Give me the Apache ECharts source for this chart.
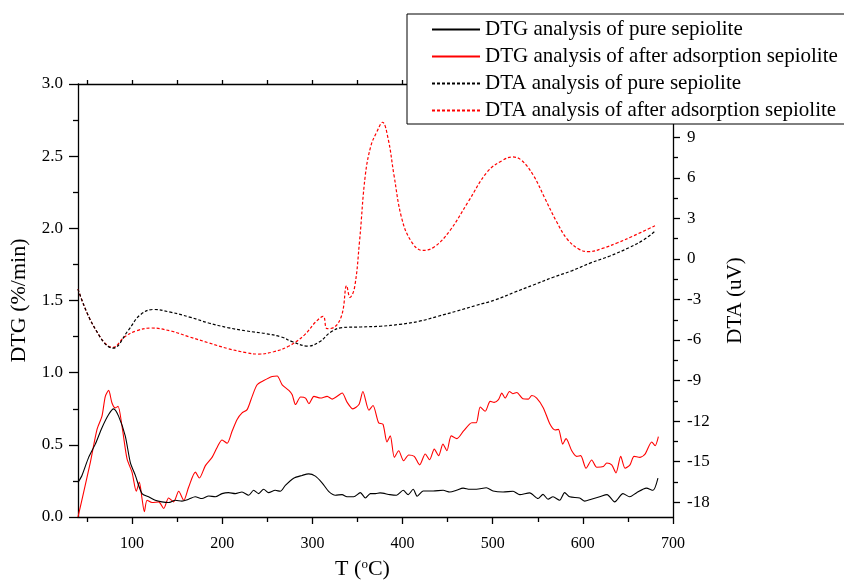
<!DOCTYPE html>
<html>
<head>
<meta charset="utf-8">
<script src="https://cdn.jsdelivr.net/npm/echarts@6/dist/echarts.min.js"></script>
<style>
  html, body { margin: 0; padding: 0; background: #fff; }
  #chart { width: 844px; height: 585px; }
</style>
</head>
<body>
<div id="chart"></div>
<script>
// Temperature (°C) and DTG (%/min) for the pure sepiolite
var dtgPureT = [40,44.4,51.8,59.2,66.6,74,79.5,85,92.4,98,103.6,111,118.3,125.7,133,140.5,147.9,155.3,162.7,170,177.5,185,192.3,199.7,207,214.5,221.9,229.3,234.8,240.3,245.9,251.4,258.8,264.4,270,279.2,288.5,295.9,303.3,310.7,318,325.5,332.9,338.4,345.8,353.2,358.8,364.3,369.9,
  375,386,393.3,400.7,406.3,411.8,416.3,422.9,434,445,452.5,459.8,467.2,474.6,482,493,500.4,511.5,522.6,530,541,550.3,555.8,561.4,566.9,574.3,579.8,585.4,596.5,602,609.4,618.7,626.8,635.3,644.5,651.9,659.3,670.4,677.8,683.3];
var dtgPure = [0.24,0.288,0.413,0.505,0.619,0.71,0.749,0.699,0.562,0.379,0.288,0.162,0.14,0.116,0.105,0.1,0.116,0.11,0.123,0.14,0.128,0.146,0.14,0.162,0.169,0.162,0.173,0.151,0.185,0.162,0.192,0.169,0.185,0.178,0.219,0.269,0.288,0.299,0.283,0.237,0.178,0.151,0.155,0.14,0.14,0.169,0.132,0.162,0.162,
  0.167,0.155,0.151,0.185,0.155,0.192,0.144,0.180,0.180,0.185,0.173,0.185,0.2,0.192,0.192,0.203,0.180,0.173,0.178,0.155,0.167,0.128,0.157,0.123,0.14,0.116,0.169,0.14,0.132,0.11,0.123,0.14,0.155,0.105,0.162,0.14,0.167,0.2,0.185,0.269];

// DTG (%/min) for the sepiolite after adsorption
var dtgAfterT = [40,46.3,53.7,61.1,66.6,70.3,74,77.7,81.4,84.4,88.8,94.4,99.9,104.7,108,111,113.6,116.6,122.1,129.5,135.1,140.5,146.1,151.7,157.3,162.8,170.2,174.6,181.3,188.7,194.3,199.8,205.4,211,216.5,222,227.6,233.2,238.7,246.1,255.4,260.9,266.5,273.9,277.6,281.3,286.9,292.4,296.1,301.7,309,316.4,322,327.5,333,338.6,344.9,351.6,356,362.7,367.2,
  373.4,378.3,382.7,386.4,390.9,395.7,401.2,406.8,413,419,425.2,430,435.2,440,444.8,449.2,454,460.3,467.7,476.9,481.7,486.2,491.7,497.2,501.6,506.4,510.1,513.8,518.6,522.3,526.7,533.4,539.6,543.3,548.8,556.2,563.6,569.2,572.9,577.7,581.4,587.7,593.2,597.6,603.5,609.8,615.4,622.8,626.5,632,636.8,642,646.8,652.3,656.8,663.4,669,676.4,680.1,683.8];
var dtgAfter = [0,0.173,0.379,0.607,0.699,0.836,0.877,0.79,0.756,0.767,0.63,0.402,0.311,0.178,0.242,0.128,0.037,0.116,0.1,0.105,0.059,0.132,0.105,0.178,0.116,0.208,0.311,0.27,0.356,0.413,0.482,0.534,0.511,0.596,0.676,0.721,0.744,0.836,0.916,0.945,0.973,0.977,0.916,0.877,0.847,0.779,0.831,0.824,0.785,0.836,0.824,0.836,0.817,0.836,0.859,0.794,0.749,0.779,0.870,0.74,0.772,
  0.653,0.642,0.52,0.562,0.413,0.459,0.39,0.43,0.42,0.361,0.436,0.397,0.47,0.425,0.505,0.459,0.562,0.543,0.596,0.653,0.653,0.762,0.733,0.801,0.794,0.813,0.858,0.824,0.87,0.854,0.863,0.82,0.817,0.842,0.824,0.756,0.642,0.603,0.607,0.505,0.543,0.459,0.42,0.425,0.338,0.395,0.345,0.35,0.374,0.361,0.306,0.42,0.338,0.361,0.42,0.413,0.436,0.52,0.494,0.557];

// DTA (uV) for the pure sepiolite
var dtaPureT = [40,57.8,79,96,108.7,123.5,142.6,163.7,185,206,227,248.5,265.5,278,295,308,320.5,333,354.5,375.6,397,418,439,460,481.6,502.8,524,545,566.4,587.6,608.7,630,651,668,680.8];
var dtaPure = [-2.23,-5.03,-6.6,-5.26,-4.16,-3.74,-3.94,-4.30,-4.74,-5.08,-5.33,-5.53,-5.77,-6.13,-6.45,-6.13,-5.4,-5.08,-5.03,-4.98,-4.84,-4.62,-4.25,-3.86,-3.44,-3.03,-2.47,-1.93,-1.37,-0.88,-0.29,0.22,0.83,1.44,2.10];

// DTA (uV) for the sepiolite after adsorption
var dtaAfterT = [40,57.8,79,91.7,104.4,121.4,142.6,163.7,185,206,227,240,257,274,291,303.5,312,316.3,324.8,333,338,341.7,346.8,352.3,358.7,365,371.4,377.7,384,390.5,399,409.5,422,435,452,473,494,511,522,532,545,557.8,570.6,583,596,606.7,621.7,638.6,655.6,681];
var dtaAfter = [-2.23,-5.03,-6.55,-5.77,-5.33,-5.11,-5.33,-5.77,-6.21,-6.63,-6.94,-7.04,-6.87,-6.45,-5.64,-4.67,-4.25,-5.16,-5.03,-4.06,-1.98,-2.84,-2.10,1.32,6.2,8.4,9.39,10.12,8.9,6.2,3.03,1.32,0.63,0.88,2.05,4.25,6.45,7.3,7.55,7.3,6.2,4.5,2.79,1.44,0.71,0.54,0.78,1.20,1.69,2.49];

// Axis ticks and labels
var tempMajor = [100,200,300,400,500,600,700];
var tempMinor = [50,150,250,350,450,550,650];
var dtaMajor = [-18,-15,-12,-9,-6,-3,0,3,6,9];
var dtaMinor = [-16.5,-13.5,-10.5,-7.5,-4.5,-1.5,1.5,4.5,7.5,10.5];

var seriesNames = [
  'DTG analysis of pure sepiolite',
  'DTG analysis of after adsorption sepiolite',
  'DTA analysis of pure sepiolite',
  'DTA analysis of after adsorption sepiolite'
];

function pairs(xs, ys) {
  return xs.map(function (x, i) { return [x, ys[i]]; });
}

var FONT = "'Liberation Serif', 'Times New Roman', serif";
var INK = '#000';
var RED = '#ff0000';

var chart = echarts.init(document.getElementById('chart'), null, { renderer: 'canvas' });

var axisLineStyle = { show: true, onZero: false, lineStyle: { color: INK, width: 1.3 } };
var tickLine = { color: INK, width: 1.3 };

chart.setOption({
  animation: false,
  backgroundColor: '#fff',
  grid: { left: 78, right: 171, top: 84, bottom: 63, containLabel: false },
  legend: {
    orient: 'vertical',
    left: 407,
    top: 14,
    padding: [5, 60, 3, 24],
    itemGap: 6,
    itemWidth: 48,
    itemHeight: 14,
    backgroundColor: '#fff',
    borderColor: INK,
    borderWidth: 1,
    borderRadius: 0,
    itemStyle: { opacity: 0 },
    textStyle: { fontFamily: FONT, fontSize: 21, color: INK, lineHeight: 21 },
    data: seriesNames
  },
  xAxis: [
    {
      type: 'value', min: 40, max: 700, position: 'bottom',
      axisLine: axisLineStyle,
      axisTick: { show: true, customValues: tempMajor, length: 7, lineStyle: tickLine },
      axisLabel: { customValues: tempMajor, color: INK, fontFamily: FONT, fontSize: 16, margin: 19 },
      splitLine: { show: false },
      name: 'T ({s|o}C)',
      nameLocation: 'middle',
      nameGap: 41,
      nameTextStyle: {
        fontFamily: FONT, fontSize: 22, color: INK, padding: [0, 26, 0, 0],
        rich: { s: { fontFamily: FONT, fontSize: 13, color: INK, verticalAlign: 'top', lineHeight: 12 } }
      }
    },
    {
      type: 'value', min: 40, max: 700, position: 'bottom',
      axisLine: { show: false, onZero: false },
      axisTick: { show: true, customValues: tempMinor, length: 5, lineStyle: tickLine },
      axisLabel: { show: false },
      splitLine: { show: false }
    },
    {
      type: 'value', min: 40, max: 700, position: 'top',
      axisLine: axisLineStyle,
      axisTick: { show: true, customValues: tempMinor.concat(tempMajor), length: 4, lineStyle: tickLine },
      axisLabel: { show: false },
      splitLine: { show: false }
    }
  ],
  yAxis: [
    {
      type: 'value', min: 0, max: 3, interval: 0.5, position: 'left',
      axisLine: axisLineStyle,
      axisTick: { show: true, length: 9, lineStyle: tickLine },
      minorTick: { show: true, splitNumber: 2, length: 5, lineStyle: tickLine },
      axisLabel: { color: INK, fontFamily: FONT, fontSize: 17, margin: 15, formatter: function (v) { return v.toFixed(1); } },
      splitLine: { show: false },
      name: 'DTG (%/min)',
      nameLocation: 'middle',
      nameRotate: 90,
      nameGap: 48,
      nameTextStyle: { fontFamily: FONT, fontSize: 22, color: INK }
    },
    {
      type: 'value', min: -19.1, max: 12.95, position: 'right',
      axisLine: axisLineStyle,
      axisTick: { show: true, customValues: dtaMajor, length: 7, lineStyle: tickLine },
      axisLabel: { customValues: dtaMajor, color: INK, fontFamily: FONT, fontSize: 17, margin: 14 },
      splitLine: { show: false },
      name: 'DTA (uV)',
      nameLocation: 'middle',
      nameRotate: 90,
      nameGap: 52,
      nameTextStyle: { fontFamily: FONT, fontSize: 21, color: INK }
    },
    {
      type: 'value', min: -19.1, max: 12.95, position: 'right',
      axisLine: { show: false, onZero: false },
      axisTick: { show: true, customValues: dtaMinor, length: 5, lineStyle: tickLine },
      axisLabel: { show: false },
      splitLine: { show: false }
    }
  ],
  series: [
    {
      name: seriesNames[0], type: 'line', xAxisIndex: 0, yAxisIndex: 0,
      data: pairs(dtgPureT, dtgPure), symbol: 'none', smooth: 0.25,
      lineStyle: { color: INK, width: 1.1 }, itemStyle: { color: INK }, z: 3
    },
    {
      name: seriesNames[1], type: 'line', xAxisIndex: 0, yAxisIndex: 0,
      data: pairs(dtgAfterT, dtgAfter), symbol: 'none', smooth: 0.25,
      lineStyle: { color: RED, width: 1.1 }, itemStyle: { color: RED }, z: 2
    },
    {
      name: seriesNames[2], type: 'line', xAxisIndex: 0, yAxisIndex: 1,
      data: pairs(dtaPureT, dtaPure), symbol: 'none', smooth: 0.4,
      lineStyle: { color: INK, width: 1.2, type: [3, 2] }, itemStyle: { color: INK }, z: 3
    },
    {
      name: seriesNames[3], type: 'line', xAxisIndex: 0, yAxisIndex: 1,
      data: pairs(dtaAfterT, dtaAfter), symbol: 'none', smooth: 0.4,
      lineStyle: { color: RED, width: 1.2, type: [3, 2] }, itemStyle: { color: RED }, z: 2
    }
  ]
});
</script>
</body>
</html>
